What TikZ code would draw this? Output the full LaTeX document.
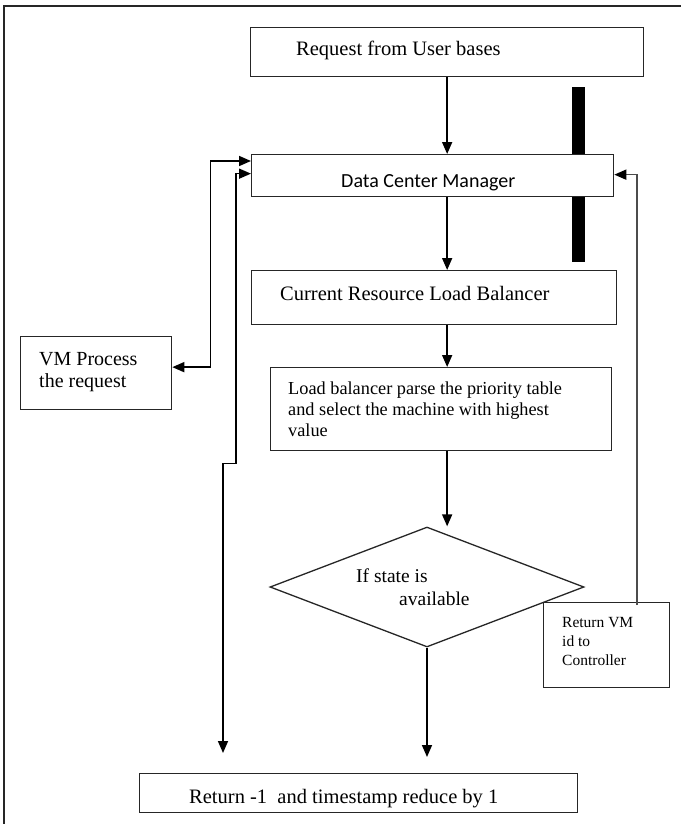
\documentclass[tikz,border=0pt]{standalone}
\usepackage{fontspec}
\setmainfont{Liberation Serif}
\newfontfamily\calibfont{Carlito}
\usetikzlibrary{shapes.geometric,arrows.meta,calc}
\begin{document}
\begin{tikzpicture}[x=1pt,y=-1pt,
  box/.style={draw=black!85,line width=1.3pt,fill=white,inner sep=0pt,anchor=north west},
  txt/.style={inner sep=0pt,anchor=base west,font=\fontsize{20.5}{24}\selectfont},
  mtxt/.style={inner sep=0pt,anchor=north west,align=left},
  arr/.style={line width=1.6pt,-{Triangle[length=12pt,width=10pt,color=black]}},
  darr/.style={line width=1.6pt,{Triangle[length=12pt,width=10pt]}-{Triangle[length=12pt,width=10pt]}},
  frameline/.style={line width=2.2pt,draw=black!85}]
\useasboundingbox (0,0) rectangle (681,824);
% outer frame (top and left edges)
\draw[frameline] (4,824) -- (4,6) -- (681,6);
% black bar
\fill[black] (572,87) rectangle (585,262);
% boxes
\node[box,minimum width=393,minimum height=49] (b1) at (250,27) {};
\node[box,minimum width=362,minimum height=42] (dcm) at (251,154) {};
\node[box,minimum width=365,minimum height=54] (crlb) at (251,270) {};
\node[box,minimum width=341,minimum height=83] (lb) at (270,367) {};
\node[box,minimum width=151,minimum height=73] (vm) at (20,336) {};
\node[box,minimum width=126,minimum height=85] (rvm) at (543,602) {};
\node[box,minimum width=438,minimum height=39] (ret) at (139,773) {};
\node[draw=black!85,line width=1.3pt,fill=white,shape=diamond,inner sep=0pt,
      minimum width=314,minimum height=120] (dia) at (427,587) {};
% texts
\node[txt] (t1) at (296,56) {Request from User bases};
\node[txt,font=\calibfont\fontsize{20}{24}\selectfont] (t2) at (341,187) {Data Center Manager};
\node[txt] (t3) at (280,300) {Current Resource Load Balancer};
\node[mtxt,font=\fontsize{18.3}{21}\selectfont] (t4) at (288,382)
  {Load balancer parse the priority table\\and select the machine with highest\\value};
\node[mtxt,font=\fontsize{20}{22}\selectfont] (t5) at (39,352) {VM Process\\the request};
\node[mtxt,font=\fontsize{19.5}{23}\selectfont] (t6) at (356,569) {If state is\\\hspace*{43pt}available};
\node[txt] (t7) at (189,803) {Return -1~ and timestamp reduce by 1};
\node[mtxt,font=\fontsize{15.5}{19}\selectfont] (t8) at (562,617) {Return VM\\id to\\Controller};
% connectors
\draw[arr] (b1.south) -- (b1.south |- dcm.north);
\draw[arr] (dcm.south -| b1.south) -- (crlb.north -| b1.south);
\draw[arr] (crlb.south -| b1.south) -- (lb.north -| b1.south);
\draw[arr] (lb.south -| b1.south) -- (b1.south |- dia.north);
\draw[arr] (dia.south) -- ($(dia.south |- ret.north)+(0,-16)$);
\draw[darr] ($(vm.east)+(0,-6)$) -- ++(38,0) |- ($(dcm.north west)+(0,7)$);
\coordinate (lbot) at (223,753);
\draw[darr] ($(dcm.west)+(0,-2)$) -- ++(-15,0) -- ++(0,290) -| (lbot);
\draw[arr,draw=black!70] ($(rvm.north west)+(94,3)$) |- ($(dcm.east)+(0,-1)$);
\end{tikzpicture}
\end{document}
